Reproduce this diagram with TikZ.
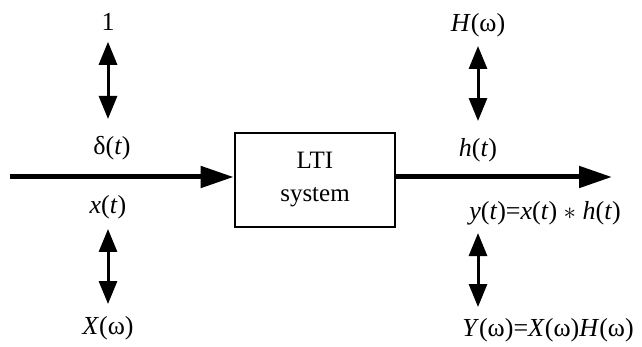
\documentclass[tikz,border=0pt]{standalone}
\usepackage{fontspec}
\setmainfont{Liberation Serif}
\usetikzlibrary{arrows.meta}
\begin{document}
\begin{tikzpicture}[x=1pt,y=-1pt,
  lbl/.style={font=\fontsize{26}{28}\selectfont, inner sep=0pt},
  mainarrow/.style={line width=5pt, -{Triangle[length=33pt,width=21pt]}},
  dbl/.style={line width=3pt, {Triangle[length=23pt,width=18pt]}-{Triangle[length=23pt,width=18pt]}},
  sys/.style={draw, line width=2.8pt, minimum width=160pt, minimum height=94pt,
    align=center, inner sep=0pt, font=\fontsize{25}{33}\selectfont}]
\useasboundingbox (0,0) rectangle (642,347);
\node[sys] (lti) at (315,180) {LTI\\system};
\coordinate (in) at (10,177);
\coordinate (out) at (612,177);
\draw[mainarrow] (in) -- (in -| lti.west);
\draw[mainarrow] (lti.east |- out) -- (out);

\node[lbl] (one) at (108,22) {1};
\node[lbl] (delta) at (112,148) {δ(\textit{t})};
\node[lbl] (xt) at (108,207) {\textit{x}(\textit{t})};
\node[lbl] (Xw) at (108,328) {\textit{X}(ω)};
\node[lbl] (Hw) at (478,25) {\textit{H}(ω)};
\node[lbl] (ht) at (478,150) {\textit{h}(\textit{t})};
\node[lbl] (yt) at (545,213) {\textit{y}(\textit{t})=\textit{x}(\textit{t}) $\ast$ \textit{h}(\textit{t})};
\node[lbl] (Yw) at (548,330) {\textit{Y}(ω)=\textit{X}(ω)\textit{H}(ω)};

\draw[dbl, shorten <=11pt, shorten >=17pt] (one.south) -- (one.south |- delta.north);
\draw[dbl, shorten <=10pt, shorten >=12pt] (xt.south) -- (xt.south |- Xw.north);
\draw[dbl, shorten <=9pt, shorten >=17pt] (Hw.south) -- (Hw.south |- ht.north);
\draw[dbl, shorten <=8pt, shorten >=11pt] (ht |- yt.south) -- (ht |- Yw.north);
\end{tikzpicture}
\end{document}
